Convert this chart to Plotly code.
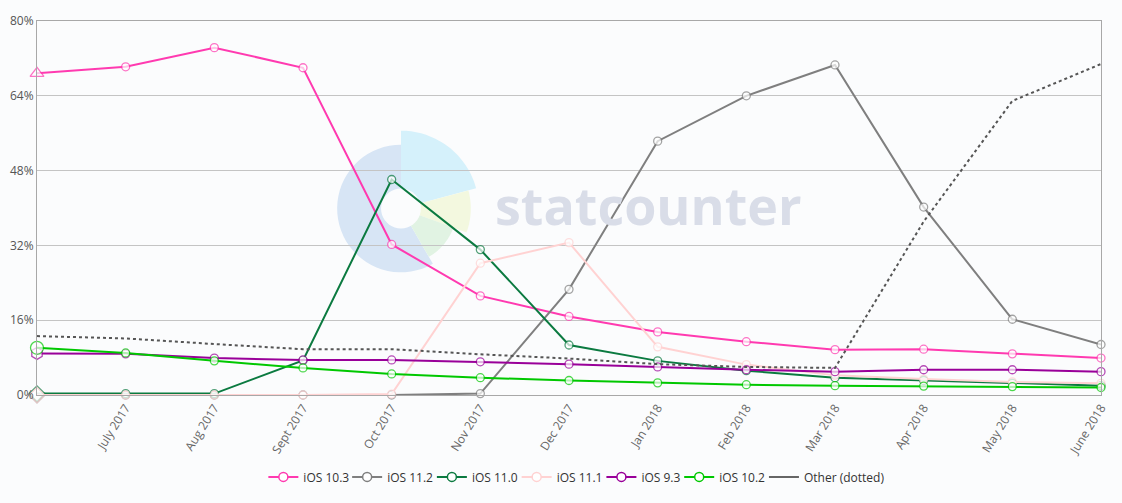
import math
import plotly.graph_objects as go

months = ["June 2017", "July 2017", "Aug 2017", "Sept 2017", "Oct 2017", "Nov 2017",
          "Dec 2017", "Jan 2018", "Feb 2018", "Mar 2018", "Apr 2018", "May 2018", "June 2018"]
tick_labels = months[1:]
y_ticks = [0, 16, 32, 48, 64, 80]
y_tick_text = ["0%", "16%", "32%", "48%", "64%", "80%"]

ios_10_3 = [68.8, 70.2, 74.3, 70.0, 32.2, 21.2, 16.8, 13.5, 11.4, 9.7, 9.8, 8.8, 7.9]
ios_11_2 = [0.0, 0.0, 0.0, 0.0, 0.0, 0.3, 22.6, 54.3, 64.0, 70.6, 40.2, 16.2, 10.8]
ios_11_0 = [0.3, 0.3, 0.3, 7.4, 46.1, 31.1, 10.7, 7.3, 5.2, 3.7, 3.1, 2.5, 2.0]
ios_11_1 = [0.0, 0.0, 0.0, 0.0, 0.2, 28.2, 32.6, 10.3, 6.5, 4.2, 3.4, 2.8, 2.5]
ios_9_3 = [8.9, 8.8, 7.9, 7.5, 7.5, 7.1, 6.6, 6.0, 5.4, 5.0, 5.4, 5.4, 5.0]
ios_10_2 = [10.1, 9.0, 7.3, 5.8, 4.5, 3.7, 3.1, 2.6, 2.2, 2.0, 1.9, 1.8, 1.6]
other = [12.6, 12.1, 10.9, 9.8, 9.8, 8.7, 7.8, 6.6, 6.0, 5.8, 37.1, 62.9, 70.8]

series = [
    ("iOS 10.3", ios_10_3, "#ff3ab0", "triangle-up", 12),
    ("iOS 11.2", ios_11_2, "#7f7f7f", "diamond", 12),
    ("iOS 11.0", ios_11_0, "#0b7a40", "diamond", 12),
    ("iOS 11.1", ios_11_1, "#ffd2d2", "diamond", 12),
    ("iOS 9.3", ios_9_3, "#990099", "hexagon", 12),
    ("iOS 10.2", ios_10_2, "#00c800", "circle", 13),
]

BG = "#fbfcfd"
FONT = "Open Sans"

# pixel layout of plot area (for decoration / legend placement)
PX0, PX1, PY0, PY1 = 37, 1104, 21, 396


def to_paper(px, py):
    return (px - PX0) / (PX1 - PX0), (PY1 - py) / (PY1 - PY0)


# legend text start positions (px) for each entry
legend_text_px = [302, 386, 471, 556, 641, 719, 804]
legend_ids = ["legend"] + ["legend%d" % i for i in range(2, 8)]

fig = go.Figure()

for name, vals, color, first_sym, first_size in series:
    n = len(vals)
    fig.add_trace(go.Scatter(
        x=months, y=vals, mode="lines+markers", name=name,
        legendgroup=name, showlegend=False, cliponaxis=False,
        line=dict(color=color, width=2),
        marker=dict(symbol=[first_sym] + ["circle"] * (n - 1),
                    size=[first_size] + [8] * (n - 1),
                    color="white", line=dict(color=color, width=1.3)),
    ))

fig.add_trace(go.Scatter(
    x=months, y=other, mode="lines", name="Other (dotted)",
    legendgroup="Other", showlegend=False, cliponaxis=False,
    line=dict(color="#555555", width=2, dash="dot"),
))

# legend entries (one legend each, to place them like the original)
for i, (name, vals, color, first_sym, first_size) in enumerate(series):
    fig.add_trace(go.Scatter(
        x=[None], y=[None], mode="lines+markers", name=name, legendgroup=name,
        legend=legend_ids[i], line=dict(color=color, width=2),
        marker=dict(symbol="circle", size=9, color="white", line=dict(color=color, width=1.5)),
    ))
fig.add_trace(go.Scatter(
    x=[None], y=[None], mode="lines", name="Other (dotted)", legendgroup="Other",
    legend=legend_ids[6], line=dict(color="#666666", width=2),
))


def wedge(cx, cy, r, a0, a1, steps=40):
    pts = [(cx, cy)]
    for i in range(steps + 1):
        a = math.radians(a0 + (a1 - a0) * i / steps)
        pts.append((cx + r * math.cos(a), cy - r * math.sin(a)))
    path = ""
    for i, (px, py) in enumerate(pts):
        x, y = to_paper(px, py)
        path += ("M" if i == 0 else "L") + f"{x:.5f},{y:.5f}"
    return path + "Z"


cx, cy = 402, 209
shapes = [
    dict(type="path", xref="paper", yref="paper", path=wedge(cx, cy, 64, 90, 300),
         fillcolor="#d7e5f5", line_width=0, layer="below"),
    dict(type="path", xref="paper", yref="paper", path=wedge(cx, cy, 78, 15, 90),
         fillcolor="#d5f1fb", line_width=0, layer="below"),
    dict(type="path", xref="paper", yref="paper", path=wedge(cx, cy, 70, -20, 15),
         fillcolor="#f3f8df", line_width=0, layer="below"),
    dict(type="path", xref="paper", yref="paper", path=wedge(cx, cy, 56, -60, -20),
         fillcolor="#e1f3e3", line_width=0, layer="below"),
    dict(type="path", xref="paper", yref="paper", path=wedge(cx, cy, 20, 0, 360),
         fillcolor=BG, line_width=0, layer="below"),
]
tx, ty = to_paper(650, 205)

legend_layout = {}
for lid, tpx in zip(legend_ids, legend_text_px):
    lx, _ = to_paper(tpx - 38, 0)
    legend_layout[lid] = dict(orientation="h", x=lx, xanchor="left", y=-0.219, yanchor="middle",
                              font=dict(size=12, color="#333333", family=FONT),
                              bgcolor="rgba(0,0,0,0)", itemwidth=30)

fig.update_layout(
    width=1122, height=503,
    margin=dict(l=37, r=18, t=21, b=107),
    paper_bgcolor=BG, plot_bgcolor="rgba(0,0,0,0)",
    font=dict(family=FONT, color="#666666"),
    shapes=shapes,
    annotations=[dict(text="<b>statcounter</b>", x=tx, y=ty, xref="paper", yref="paper",
                      showarrow=False, font=dict(family=FONT, size=52, color="#d9dde8"))],
    xaxis=dict(
        type="category", range=[0, len(months) - 1],
        tickmode="array", tickvals=tick_labels, ticktext=tick_labels,
        tickangle=-58, tickfont=dict(size=12, color="#666666"),
        showgrid=False, showline=True, linecolor="#a8a8a8", linewidth=1, mirror=True,
        ticks="", zeroline=False,
    ),
    yaxis=dict(
        range=[0, 80], tickmode="array", tickvals=y_ticks, ticktext=y_tick_text,
        tickfont=dict(size=12, color="#555555"),
        showgrid=True, gridcolor="#c4c4c4", gridwidth=1,
        showline=True, linecolor="#a8a8a8", linewidth=1, mirror=True,
        zeroline=False, ticks="", automargin=False,
    ),
    **legend_layout,
)

fig.write_html("out.html", config={"displayModeBar": False},
               post_script="document.body.style.margin='0';document.body.style.background='%s';" % BG)
